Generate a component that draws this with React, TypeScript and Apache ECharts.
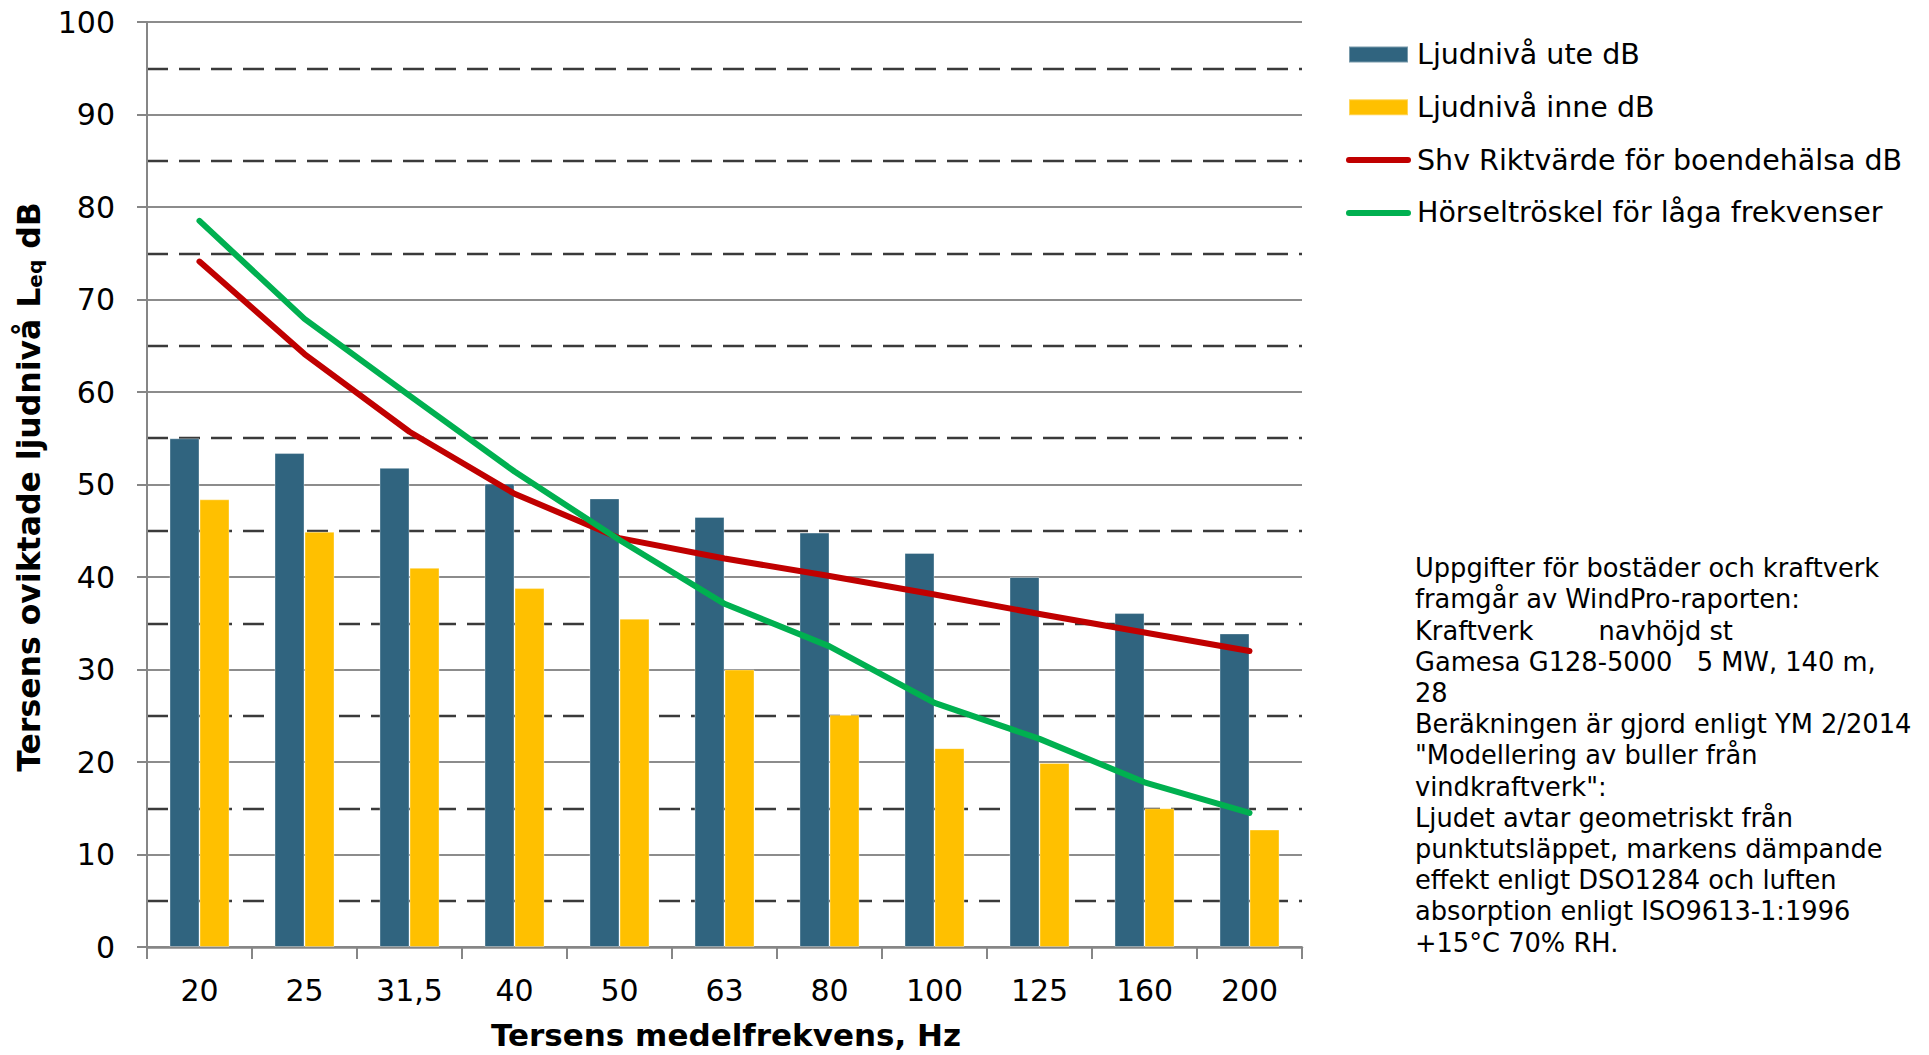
import React, { useEffect, useRef } from "react";
import * as echarts from "echarts";

const categories = ["20", "25", "31,5", "40", "50", "63", "80", "100", "125", "160", "200"];
const uteValues = [55.0, 53.4, 51.8, 50.1, 48.5, 46.5, 44.8, 42.6, 40.0, 36.1, 33.9];
const inneValues = [48.4, 44.9, 41.0, 38.8, 35.5, 30.0, 25.1, 21.5, 19.9, 15.0, 12.7];
const riktValues = [74.1, 64.1, 55.7, 49.0, 44.2, 42.0, 40.1, 38.1, 36.0, 34.0, 32.0];
const horselValues = [78.5, 67.9, 59.6, 51.4, 44.0, 37.1, 32.5, 26.4, 22.5, 17.8, 14.5];

const seriesNames = [
  "Ljudnivå ute dB",
  "Ljudnivå inne dB",
  "Shv Riktvärde för boendehälsa dB",
  "Hörseltröskel för låga frekvenser",
];

const noteLines = [
  "Uppgifter för bostäder och kraftverk",
  "framgår av WindPro-raporten:",
  "Kraftverk        navhöjd st",
  "Gamesa G128-5000   5 MW, 140 m,",
  "28",
  "Beräkningen är gjord enligt YM 2/2014",
  "\"Modellering av buller från",
  "vindkraftverk\":",
  "Ljudet avtar geometriskt från",
  "punktutsläppet, markens dämpande",
  "effekt enligt DSO1284 och luften",
  "absorption enligt ISO9613-1:1996",
  "+15°C 70% RH.",
];

const FONT = "'DejaVu Sans', Verdana, sans-serif";

export default function App() {
  const ref = useRef<HTMLDivElement>(null);
  useEffect(() => {
    if (!ref.current) return;
    const chart = echarts.init(ref.current, undefined, { renderer: "svg" });
    chart.setOption({
      animation: false,
      backgroundColor: "#ffffff",
      textStyle: { fontFamily: FONT },
      grid: { left: 147, right: 627, top: 22, bottom: 108, containLabel: false },
      legend: {
        orient: "vertical",
        left: 1346,
        top: 40,
        padding: 0,
        itemWidth: 59,
        itemHeight: 16,
        itemGap: 23.8,
        selectedMode: false,
        textStyle: {
          fontFamily: FONT,
          fontSize: 28.5,
          color: "#000",
          lineHeight: 28,
          padding: [0, 0, 0, 4],
        },
        data: [
          { name: seriesNames[0], icon: "rect" },
          { name: seriesNames[1], icon: "rect" },
          { name: seriesNames[2], itemStyle: { opacity: 0 }, lineStyle: { width: 6, cap: "round" } },
          { name: seriesNames[3], itemStyle: { opacity: 0 }, lineStyle: { width: 6, cap: "round" } },
        ],
      },
      xAxis: {
        type: "category",
        data: categories,
        boundaryGap: true,
        axisLine: { show: true, lineStyle: { color: "#868686", width: 2.5 } },
        axisTick: { show: true, length: 12, alignWithLabel: false, lineStyle: { color: "#868686", width: 2 } },
        axisLabel: { fontFamily: FONT, fontSize: 30, color: "#000", margin: 28 },
        splitLine: { show: false },
      },
      yAxis: {
        type: "value",
        min: 0,
        max: 100,
        interval: 10,
        axisLine: { show: true, lineStyle: { color: "#868686", width: 2 } },
        axisTick: { show: true, length: 10, inside: false, lineStyle: { color: "#868686", width: 2 } },
        axisLabel: { fontFamily: FONT, fontSize: 30, color: "#000", margin: 32 },
        splitLine: { show: true, lineStyle: { color: "#8c8c8c", width: 2, type: "solid" } },
        minorTick: { show: false, splitNumber: 2 },
        minorSplitLine: { show: true, lineStyle: { color: "#3a3a3a", width: 2.4, type: [21, 11] } },
      },
      series: [
        {
          name: seriesNames[0],
          type: "bar",
          data: uteValues,
          barWidth: 30,
          barGap: "0%",
          itemStyle: { color: "#30647F", borderColor: "rgba(255,255,255,0.35)", borderWidth: 1 },
          z: 2,
        },
        {
          name: seriesNames[1],
          type: "bar",
          data: inneValues,
          barWidth: 30,
          barGap: "0%",
          itemStyle: { color: "#FFC000", borderColor: "rgba(255,255,255,0.35)", borderWidth: 1 },
          z: 2,
        },
        {
          name: seriesNames[2],
          type: "line",
          data: riktValues,
          symbol: "none",
          lineStyle: { color: "#C00000", width: 6, cap: "round", join: "round" },
          itemStyle: { color: "#C00000" },
          z: 3,
        },
        {
          name: seriesNames[3],
          type: "line",
          data: horselValues,
          symbol: "none",
          lineStyle: { color: "#00B050", width: 6, cap: "round", join: "round" },
          itemStyle: { color: "#00B050" },
          z: 3,
        },
      ],
      graphic: [
        {
          type: "text",
          x: 27,
          y: 487,
          rotation: Math.PI / 2,
          style: {
            text: "{a|Tersens oviktade ljudnivå L}{b|eq}{a| dB}",
            textAlign: "center",
            textVerticalAlign: "middle",
            fill: "#000",
            rich: {
              a: { fontFamily: FONT, fontSize: 31.5, fontWeight: "bold", lineHeight: 36, verticalAlign: "bottom", fill: "#000" },
              b: { fontFamily: FONT, fontSize: 20, fontWeight: "bold", lineHeight: 12, verticalAlign: "bottom", fill: "#000" },
            },
          },
        },
        {
          type: "text",
          x: 726,
          y: 1035,
          style: {
            text: "Tersens medelfrekvens, Hz",
            fontFamily: FONT,
            fontSize: 31,
            fontWeight: "bold",
            fill: "#000",
            textAlign: "center",
            textVerticalAlign: "middle",
          },
        },
        {
          type: "text",
          x: 1415,
          y: 552.5,
          style: {
            text: noteLines.join("\n"),
            fontFamily: FONT,
            fontSize: 25.7,
            lineHeight: 31.2,
            fill: "#000",
            textAlign: "left",
            textVerticalAlign: "top",
          },
        },
      ],
    });
    return () => chart.dispose();
  }, []);
  return (
    <div
      ref={ref}
      style={{ position: "absolute", left: 0, top: 0, width: 1929, height: 1055 }}
    />
  );
}
